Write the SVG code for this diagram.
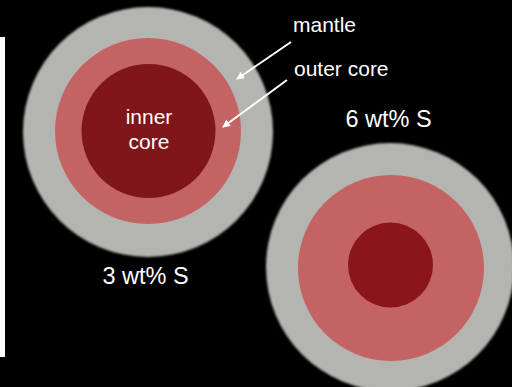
<svg xmlns="http://www.w3.org/2000/svg" width="512" height="387" viewBox="0 0 512 387">
  <style>
    .mantle { fill: #b4b4b0; }
    .outer { fill: #c46363; }
    .inner { fill: #7e161a; }
    .lbl { font-family: "Liberation Sans", Arial, sans-serif; font-size: 21px; fill: #ffffff; }
    .big { font-size: 23.5px; }
    .arrow { stroke: #ffffff; stroke-width: 2; fill: none; marker-end: url(#head); }
  </style>
  <defs>
    <marker id="head" markerWidth="8" markerHeight="8" refX="7" refY="4" orient="auto" markerUnits="userSpaceOnUse" viewBox="0 0 8 8">
      <path d="M0,0 L8,4 L0,8 Z" fill="#ffffff"/>
    </marker>
    <filter id="soft" x="-5%" y="-5%" width="110%" height="110%">
      <feGaussianBlur stdDeviation="0.9"/>
    </filter>
  </defs>

  <rect width="512" height="387" fill="#000000"/>

  <!-- scale bar on the left edge -->
  <rect id="scale-bar" x="0" y="37" width="5" height="320" fill="#ffffff"/>

  <!-- planet with 3 wt% S core -->
  <g id="planet-3wt">
    <circle class="mantle" cx="148" cy="132" r="125" filter="url(#soft)"/>
    <circle class="outer" cx="148" cy="131" r="93"/>
    <circle class="inner" cx="148.5" cy="131" r="67"/>
    <text class="lbl" x="149" y="124" text-anchor="middle">inner</text>
    <text class="lbl" x="149" y="149" text-anchor="middle">core</text>
    <text class="lbl big" x="145.5" y="284" text-anchor="middle">3 wt% S</text>
  </g>

  <!-- planet with 6 wt% S core -->
  <g id="planet-6wt">
    <circle class="mantle" cx="390" cy="267" r="124" filter="url(#soft)"/>
    <circle class="outer" cx="391" cy="268" r="93"/>
    <circle class="inner" cx="390.5" cy="265" r="42.5" style="fill:#8a151a"/>
    <text class="lbl big" x="388.5" y="127" text-anchor="middle">6 wt% S</text>
  </g>

  <!-- layer labels -->
  <g id="layer-labels">
    <text class="lbl" x="293" y="32">mantle</text>
    <text class="lbl" x="294" y="76">outer core</text>
  </g>

  <!-- pointers from labels to layers -->
  <g id="connectors">
    <line class="arrow" x1="291" y1="42" x2="237" y2="79"/>
    <line class="arrow" x1="287" y1="80" x2="223" y2="127"/>
  </g>
</svg>
